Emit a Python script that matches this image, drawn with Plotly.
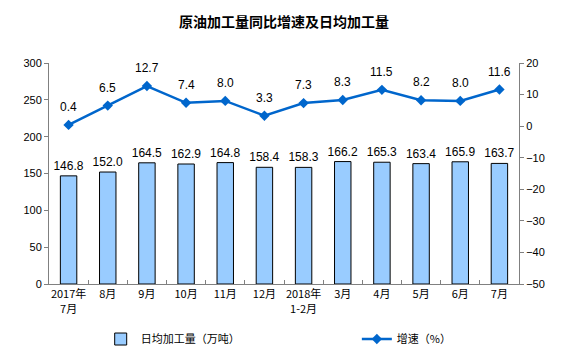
import plotly.graph_objects as go

categories = ["2017年<br>7月", "8月", "9月", "10月", "11月", "12月", "2018年<br>1-2月",
              "3月", "4月", "5月", "6月", "7月"]
daily_output = [146.8, 152.0, 164.5, 162.9, 164.8, 158.4, 158.3, 166.2, 165.3, 163.4, 165.9, 163.7]
growth_rate = [0.4, 6.5, 12.7, 7.4, 8.0, 3.3, 7.3, 8.3, 11.5, 8.2, 8.0, 11.6]

FONT = "Noto Sans CJK SC, Liberation Sans, sans-serif"
NUMFONT = "Liberation Sans, Arial, sans-serif"

fig = go.Figure()
fig.add_trace(go.Bar(
    x=categories, y=daily_output, name="日均加工量（万吨）",
    marker=dict(color="#99CCFF", line=dict(color="black", width=1)),
    width=0.42,
    text=[f"{v:.1f}" for v in daily_output], textposition="outside",
    constraintext="none",
    textfont=dict(size=12, color="black", family=NUMFONT),
    cliponaxis=False, legend="legend",
))
fig.add_trace(go.Scatter(
    x=categories, y=growth_rate, name="增速（%）", yaxis="y2",
    mode="lines+markers",
    line=dict(color="#0066CC", width=2.5),
    marker=dict(symbol="diamond", size=8, color="#0066CC"),
    legend="legend2", cliponaxis=False,
))

for c, v in zip(categories, growth_rate):
    fig.add_annotation(x=c, y=v, xref="x", yref="y2", text=f"{v:.1f}",
                       showarrow=False, yshift=18,
                       font=dict(size=12, color="black", family=NUMFONT))

fig.update_layout(
    width=554, height=350,
    margin=dict(l=41, r=43, t=55, b=74, autoexpand=False),
    paper_bgcolor="white", plot_bgcolor="white",
    title=dict(text="<b>原油加工量同比增速及日均加工量</b>", x=0.5, xanchor="center",
               xref="paper", y=0.96, yref="container", yanchor="middle",
               font=dict(size=14, color="black", family=FONT)),
    font=dict(family=FONT, size=11, color="black"),
    showlegend=True,
    legend=dict(orientation="h", x=0.11, xanchor="left", y=-0.249, yanchor="middle",
                font=dict(size=11, family=FONT), bgcolor="rgba(0,0,0,0)"),
    legend2=dict(orientation="h", x=0.655, xanchor="left", y=-0.249, yanchor="middle",
                 font=dict(size=11, family=FONT), bgcolor="rgba(0,0,0,0)"),
    xaxis=dict(type="category", range=[-0.5, len(categories) - 0.5],
               showline=True, linecolor="#808080", linewidth=1,
               ticks="inside", ticklen=4, tickcolor="#808080", tickson="boundaries",
               showgrid=False, tickangle=0, automargin=False,
               tickfont=dict(size=11, family=FONT)),
    yaxis=dict(range=[0, 300], dtick=50, showline=True, linecolor="#808080",
               ticks="outside", ticklen=4, tickcolor="#808080", showgrid=False,
               zeroline=False, automargin=False, tickfont=dict(size=11, family=NUMFONT)),
    yaxis2=dict(range=[-50, 20], dtick=10, overlaying="y", side="right",
                showline=True, linecolor="#808080", ticks="outside", ticklen=4,
                tickcolor="#808080", showgrid=False, zeroline=False, automargin=False,
                tickfont=dict(size=11, family=NUMFONT)),
)

fig.write_html("out.html")
